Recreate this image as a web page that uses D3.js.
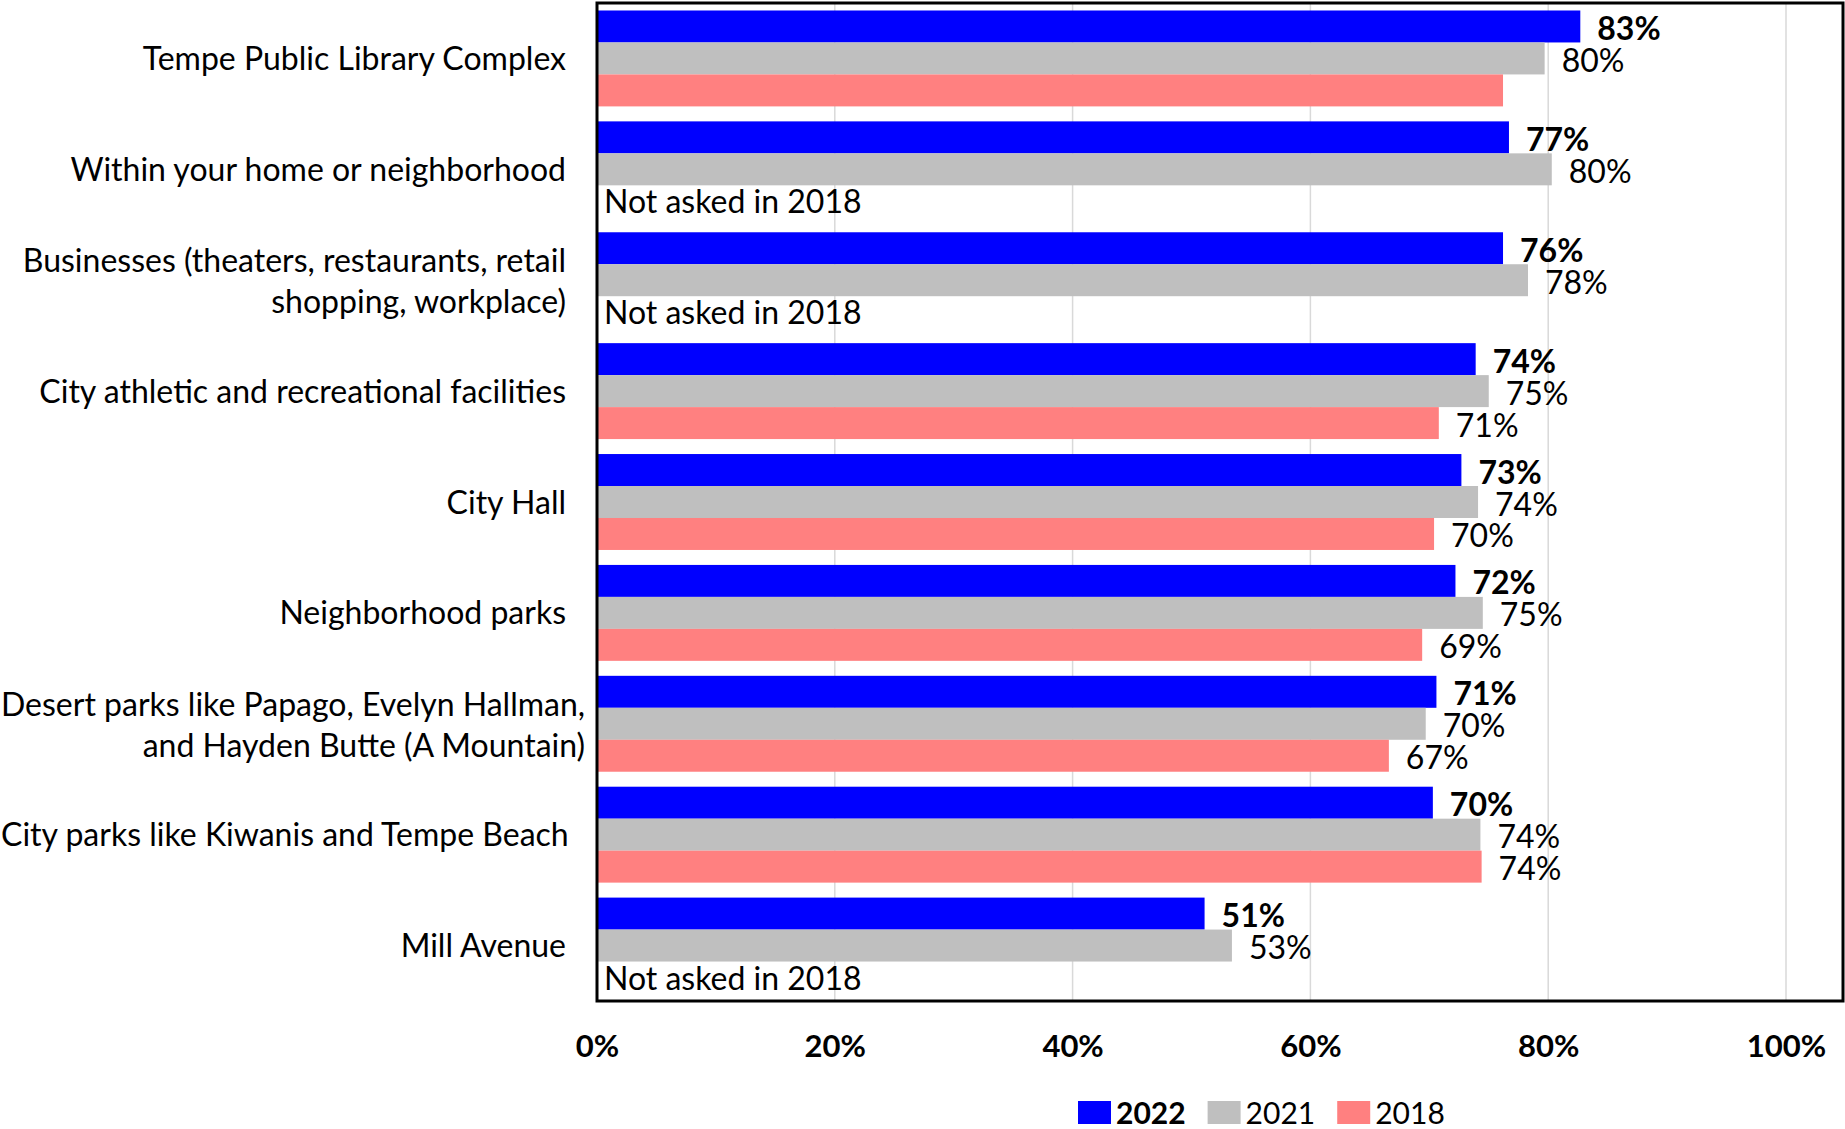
<!DOCTYPE html>
<html>
<head>
<meta charset="utf-8">
<script src="https://cdn.jsdelivr.net/npm/d3@7"></script>
<style>
  html, body { margin: 0; padding: 0; background: #ffffff; }
  svg { display: block; font-family: Lato, "Open Sans", sans-serif; }
</style>
</head>
<body>
<svg id="chart" width="1845" height="1129"></svg>
<script>
// ---------- data ----------
const categories = [
  ["Tempe Public Library Complex"],
  ["Within your home or neighborhood"],
  ["Businesses (theaters, restaurants, retail", "shopping, workplace)"],
  ["City athletic and recreational facilities"],
  ["City Hall"],
  ["Neighborhood parks"],
  ["Desert parks like Papago, Evelyn Hallman,", "and Hayden Butte (A Mountain)"],
  ["City parks like Kiwanis and Tempe Beach"],
  ["Mill Avenue"]
];
const seriesNames = ["2022", "2021", "2018"];
const values2022 = [82.7, 76.7, 76.2, 73.9, 72.7, 72.2, 70.6, 70.3, 51.1];
const values2021 = [79.7, 80.3, 78.3, 75.0, 74.1, 74.5, 69.7, 74.3, 53.4];
const values2018 = [76.2, null, null, 70.8, 70.4, 69.4, 66.6, 74.4, null];
const labels2022 = ["83%", "77%", "76%", "74%", "73%", "72%", "71%", "70%", "51%"];
const labels2021 = ["80%", "80%", "78%", "75%", "74%", "75%", "70%", "74%", "53%"];
const labels2018 = ["", "Not asked in 2018", "Not asked in 2018", "71%", "70%", "69%", "67%", "74%", "Not asked in 2018"];
const tickValues = [0, 20, 40, 60, 80, 100];

// ---------- style ----------
const colors = { "2022": "#0000ff", "2021": "#bfbfbf", "2018": "#ff8080" };
const fontCat = 32, fontVal = 32, fontNA = 32, fontTick = 31, fontLeg = 30;

const svg = d3.select("#chart");
const plotLeft = 597, plotRight = 1843, plotTop = 3, plotBottom = 1001;

const x = d3.scaleLinear().domain([0, 100]).range([plotLeft, 1786]);
const y = d3.scaleBand()
  .domain(d3.range(categories.length))
  .range([plotTop, plotBottom])
  .paddingInner(0.135)
  .paddingOuter(0.0675);
const ySub = d3.scaleBand().domain(seriesNames).range([0, y.bandwidth()]);

// gridlines
svg.append("g").selectAll("line")
  .data(tickValues.filter(d => d > 0))
  .join("line")
  .attr("x1", d => x(d)).attr("x2", d => x(d))
  .attr("y1", plotTop).attr("y2", plotBottom)
  .attr("stroke", "#d9d9d9").attr("stroke-width", 1.5);

// series table
const series = [
  { name: "2022", values: values2022, labels: labels2022, bold: true },
  { name: "2021", values: values2021, labels: labels2021, bold: false },
  { name: "2018", values: values2018, labels: labels2018, bold: false }
];

const groups = svg.append("g").selectAll("g")
  .data(series)
  .join("g");

groups.selectAll("rect")
  .data(s => s.values.map((v, i) => ({ s, v, i })).filter(d => d.v != null))
  .join("rect")
  .attr("x", x(0))
  .attr("y", d => y(d.i) + ySub(d.s.name))
  .attr("width", d => x(d.v) - x(0))
  .attr("height", ySub.bandwidth())
  .attr("fill", d => colors[d.s.name]);

groups.selectAll("text")
  .data(s => s.labels.map((t, i) => ({ s, t, i, v: s.values[i] })).filter(d => d.t))
  .join("text")
  .attr("x", d => d.v == null ? x(0) + 7 : x(d.v) + 17)
  .attr("y", d => y(d.i) + ySub(d.s.name) + ySub.bandwidth() / 2 + (d.v == null ? 12 : 13.5))
  .attr("font-size", d => d.v == null ? fontNA : fontVal)
  .attr("font-weight", d => d.s.bold ? 700 : 400)
  .attr("fill", "#000")
  .text(d => d.t);

// category labels
const catAnchor = 566;
const catG = svg.append("g");
categories.forEach((lines, i) => {
  const cy = y(i) + y.bandwidth() / 2;
  const t = catG.append("text")
    .attr("font-size", fontCat)
    .attr("fill", "#000")
    .attr("text-anchor", "end");
  const base = lines.length === 1 ? [cy + 11.5] : [cy - 8, cy + 33];
  lines.forEach((ln, k) => {
    t.append("tspan").attr("x", catAnchor).attr("y", base[k]).text(ln);
  });
  // shift right if text would be clipped at the left edge
  const bb = t.node().getBBox();
  if (bb.x < 1) {
    t.selectAll("tspan").attr("x", catAnchor + (1 - bb.x));
  }
});

// frame
svg.append("rect")
  .attr("x", plotLeft).attr("y", plotTop)
  .attr("width", plotRight - plotLeft).attr("height", plotBottom - plotTop)
  .attr("fill", "none").attr("stroke", "#000").attr("stroke-width", 3);

// x axis tick labels
const xAxis = d3.axisBottom(x).tickValues(tickValues).tickFormat(d => d + "%").tickSize(0);
const axG = svg.append("g").attr("transform", `translate(0,${plotBottom})`).call(xAxis);
axG.select(".domain").remove();
axG.selectAll("text")
  .attr("y", 56).attr("dy", 0)
  .attr("font-size", fontTick)
  .attr("font-weight", 700)
  .attr("font-family", "Lato, sans-serif")
  .attr("fill", "#000");

// legend
const legG = svg.append("g");
let lx = 1078;
series.forEach(s => {
  legG.append("rect").attr("x", lx).attr("y", 1101).attr("width", 33).attr("height", 23)
    .attr("fill", colors[s.name]);
  const t = legG.append("text").attr("x", lx + 38).attr("y", 1124)
    .attr("font-size", fontLeg).attr("font-weight", s.bold ? 700 : 400).attr("fill", "#000")
    .text(s.name);
  lx += 38 + t.node().getComputedTextLength() + 22;
});
</script>
</body>
</html>
